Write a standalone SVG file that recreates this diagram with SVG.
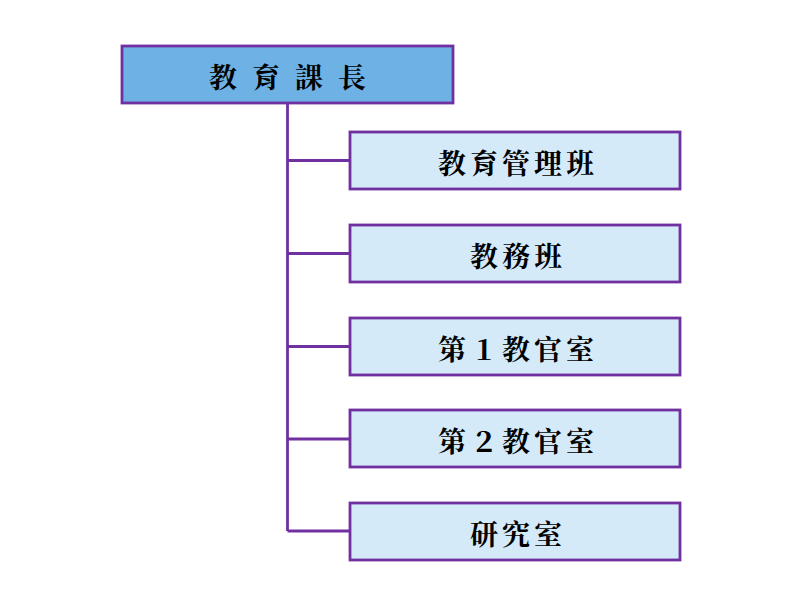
<svg xmlns="http://www.w3.org/2000/svg" width="801" height="605" viewBox="0 0 801 605">
<style>
.box{stroke:#7030A0;stroke-width:2.8}
.top{fill:#6EB2E5}
.sub{fill:#D5EAF8}
.t{font-family:"Noto Serif CJK TC","Noto Sans CJK TC","Noto Sans CJK JP",serif;font-weight:bold;font-size:28px;fill:#000;text-anchor:middle;dominant-baseline:central}
.ln{stroke:#7030A0;stroke-width:2.8;fill:none}
</style>
<rect width="801" height="605" fill="#fff"/>
<g id="connectors">
<path class="ln" d="M287.5 103 V531 M287.5 160.5 H350 M287.5 253.5 H350 M287.5 346.5 H350 M287.5 439 H350 M287.5 531 H350"/>
</g>
<g id="n-head">
<rect class="box top" x="122" y="46" width="331" height="57"/>
<text class="t" x="223" y="76">教</text>
<text class="t" x="266" y="76">育</text>
<text class="t" x="309" y="76">課</text>
<text class="t" x="352" y="76">長</text>
</g>
<g id="n-kanri">
<rect class="box sub" x="350" y="132" width="330" height="57"/>
<text class="t" x="518" y="162" letter-spacing="4">教育管理班</text>
</g>
<g id="n-kyomu">
<rect class="box sub" x="350" y="225" width="330" height="57"/>
<text class="t" x="518" y="255" letter-spacing="4">教務班</text>
</g>
<g id="n-dai1">
<rect class="box sub" x="350" y="318" width="330" height="57"/>
<text class="t" x="518" y="348" letter-spacing="4">第１教官室</text>
</g>
<g id="n-dai2">
<rect class="box sub" x="350" y="410" width="330" height="57"/>
<text class="t" x="518" y="440" letter-spacing="4">第２教官室</text>
</g>
<g id="n-kenkyu">
<rect class="box sub" x="350" y="503" width="330" height="57"/>
<text class="t" x="518" y="533" letter-spacing="4">研究室</text>
</g>
</svg>
